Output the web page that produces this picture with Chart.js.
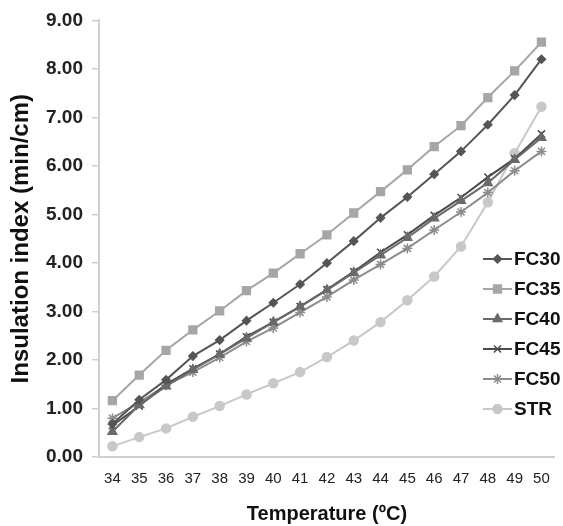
<!DOCTYPE html>
<html>
<head>
<meta charset="utf-8">
<script src="https://cdn.jsdelivr.net/npm/chart.js@4.4.1/dist/chart.umd.min.js"></script>
<style>
  body { margin: 0; background: #fff; }
  #wrap { width: 563px; height: 526px; }
</style>
</head>
<body>
<div id="wrap"><canvas id="chart" width="563" height="526"></canvas></div>
<script>
// values
const temps = ['34','35','36','37','38','39','40','41','42','43','44','45','46','47','48','49','50'];
const fc30 = [0.68, 1.18, 1.59, 2.08, 2.41, 2.81, 3.18, 3.56, 4.00, 4.45, 4.93, 5.36, 5.83, 6.30, 6.85, 7.46, 8.20];
const fc35 = [1.16, 1.69, 2.20, 2.62, 3.01, 3.43, 3.79, 4.19, 4.58, 5.03, 5.47, 5.92, 6.40, 6.83, 7.41, 7.96, 8.55];
const fc40 = [0.52, 1.07, 1.46, 1.80, 2.12, 2.45, 2.78, 3.10, 3.44, 3.80, 4.16, 4.52, 4.92, 5.28, 5.65, 6.13, 6.58];
const fc45 = [0.65, 1.05, 1.50, 1.82, 2.12, 2.48, 2.78, 3.10, 3.45, 3.82, 4.22, 4.58, 4.98, 5.35, 5.77, 6.15, 6.66];
const fc50 = [0.80, 1.12, 1.48, 1.75, 2.05, 2.38, 2.66, 2.98, 3.30, 3.65, 3.97, 4.30, 4.68, 5.05, 5.45, 5.90, 6.30];
const str  = [0.22, 0.41, 0.59, 0.83, 1.05, 1.29, 1.52, 1.75, 2.06, 2.40, 2.78, 3.23, 3.72, 4.34, 5.25, 6.26, 7.22];
const yTicks = [0, 1, 2, 3, 4, 5, 6, 7, 8, 9];

const font = '"Liberation Sans", Arial, sans-serif';

function series(label, data, color, style, radius) {
    return {
        label, data,
        borderColor: color, backgroundColor: color,
        borderWidth: 2,
        pointStyle: style, pointRadius: radius, pointBorderWidth: 1.5,
        pointBorderColor: color, pointBackgroundColor: color,
        tension: 0
    };
}

// legend drawn inside the plot, to the right
const innerLegend = {
    id: 'innerLegend',
    afterDraw(chart) {
        const ctx = chart.ctx;
        ctx.save();
        chart.data.datasets.forEach((ds, i) => {
            const y = 259 + i * 30;
            ctx.strokeStyle = ds.borderColor;
            ctx.lineWidth = 2;
            ctx.beginPath();
            ctx.moveTo(483, y);
            ctx.lineTo(512, y);
            ctx.stroke();
            ctx.fillStyle = ds.backgroundColor;
            ctx.lineWidth = 1.5;
            Chart.helpers.drawPoint(ctx, { pointStyle: ds.pointStyle, radius: ds.pointRadius, rotation: 0, borderWidth: 1.5 }, 497.5, y);
            ctx.fillStyle = '#111';
            ctx.font = 'bold 19px ' + font;
            ctx.textBaseline = 'middle';
            ctx.fillText(ds.label, 514, y + 1);
        });
        ctx.restore();
    }
};

new Chart(document.getElementById('chart'), {
    type: 'line',
    data: {
        labels: temps,
        datasets: [
            series('FC30', fc30, '#555555', 'rectRot', 4),
            series('FC35', fc35, '#a6a6a6', 'rect', 5.5),
            series('FC40', fc40, '#6a6a6a', 'triangle', 5),
            series('FC45', fc45, '#4a4a4a', 'crossRot', 5),
            series('FC50', fc50, '#8c8c8c', 'star', 5),
            series('STR', str, '#c8c8c8', 'circle', 4.5)
        ]
    },
    options: {
        responsive: false,
        devicePixelRatio: 1,
        animation: false,
        layout: { padding: { top: 20, right: 5, left: 7, bottom: 0 } },
        plugins: {
            legend: { display: false },
            tooltip: { enabled: false }
        },
        scales: {
            x: {
                type: 'category',
                offset: true,
                grid: { display: true, drawOnChartArea: false, drawTicks: false, color: '#d0d0d0' },
                border: { color: '#d0d0d0', width: 2 },
                ticks: {
                    color: '#222', padding: 13,
                    maxRotation: 0, autoSkip: false,
                    font: { family: font, size: 15 }
                },
                title: {
                    display: true, text: 'Temperature (ºC)', color: '#111',
                    font: { family: font, size: 20, weight: 'bold' },
                    padding: { top: 5, bottom: 0 }
                },
                afterFit(scale) { scale.height = 69; }
            },
            y: {
                min: 0, max: 9,
                afterBuildTicks(scale) { scale.ticks = yTicks.map(v => ({ value: v })); },
                grid: { display: true, drawOnChartArea: false, tickLength: 7, color: '#d0d0d0', lineWidth: 1.5 },
                border: { color: '#d0d0d0', width: 2 },
                ticks: {
                    color: '#222', padding: 9,
                    callback: v => v.toFixed(2),
                    font: { family: font, size: 19, weight: 'bold' }
                },
                title: {
                    display: true, text: 'Insulation index (min/cm)', color: '#111',
                    font: { family: font, size: 24, weight: 'bold' },
                    padding: { top: 0, bottom: 0 }
                },
                afterFit(scale) { scale.width = 92; }
            }
        }
    },
    plugins: [innerLegend]
});
</script>
</body>
</html>
